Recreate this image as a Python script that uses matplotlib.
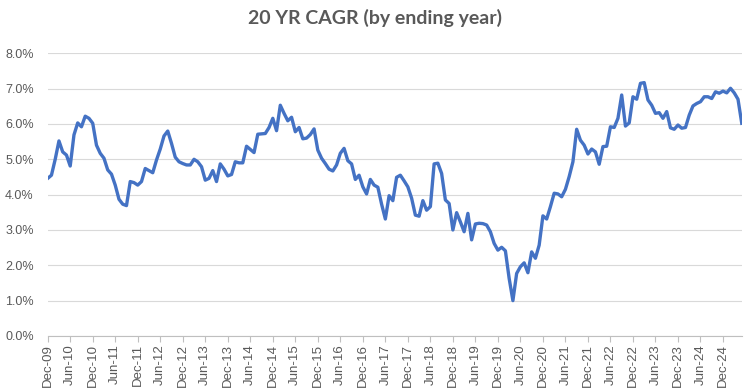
import numpy as np
import matplotlib.pyplot as plt
from matplotlib.ticker import PercentFormatter

# 20-year CAGR by ending month, Dec-09 .. May-25 (percent)
cagr = [
    4.46, 4.55, 5.00, 5.52, 5.21, 5.12, 4.81, 5.69, 6.03, 5.92,
    6.22, 6.16, 6.02, 5.40, 5.17, 5.03, 4.70, 4.58, 4.27, 3.87,
    3.73, 3.69, 4.37, 4.34, 4.27, 4.37, 4.74, 4.68, 4.62, 4.98,
    5.29, 5.66, 5.80, 5.45, 5.06, 4.93, 4.88, 4.84, 4.84, 5.00,
    4.93, 4.79, 4.41, 4.46, 4.68, 4.37, 4.87, 4.72, 4.53, 4.57,
    4.93, 4.90, 4.90, 5.37, 5.28, 5.19, 5.71, 5.72, 5.73, 5.90,
    6.16, 5.81, 6.53, 6.30, 6.09, 6.19, 5.78, 5.90, 5.58, 5.60,
    5.70, 5.86, 5.26, 5.03, 4.88, 4.72, 4.67, 4.84, 5.17, 5.31,
    4.96, 4.87, 4.43, 4.55, 4.22, 4.02, 4.43, 4.27, 4.21, 3.73,
    3.31, 3.97, 3.83, 4.49, 4.55, 4.39, 4.22, 3.90, 3.42, 3.39,
    3.83, 3.56, 3.66, 4.87, 4.89, 4.60, 3.85, 3.75, 3.00, 3.49,
    3.23, 2.95, 3.47, 2.72, 3.17, 3.19, 3.18, 3.14, 2.95, 2.62,
    2.43, 2.51, 2.41, 1.63, 1.00, 1.77, 1.96, 2.07, 1.79, 2.38,
    2.20, 2.57, 3.40, 3.31, 3.66, 4.04, 4.02, 3.94, 4.15, 4.51,
    4.93, 5.85, 5.54, 5.40, 5.15, 5.29, 5.21, 4.86, 5.36, 5.37,
    5.92, 5.90, 6.16, 6.82, 5.94, 6.03, 6.77, 6.70, 7.15, 7.17,
    6.68, 6.53, 6.30, 6.32, 6.16, 6.35, 5.89, 5.85, 5.97, 5.88,
    5.90, 6.25, 6.51, 6.58, 6.63, 6.77, 6.77, 6.72, 6.91, 6.87,
    6.93, 6.88, 7.01, 6.88, 6.70, 6.02,
]

tick_labels = [
    "Dec-09", "Jun-10", "Dec-10", "Jun-11", "Dec-11", "Jun-12", "Dec-12",
    "Jun-13", "Dec-13", "Jun-14", "Dec-14", "Jun-15", "Dec-15", "Jun-16",
    "Dec-16", "Jun-17", "Dec-17", "Jun-18", "Dec-18", "Jun-19", "Dec-19",
    "Jun-20", "Dec-20", "Jun-21", "Dec-21", "Jun-22", "Dec-22", "Jun-23",
    "Dec-23", "Jun-24", "Dec-24",
]

GREY = "#595959"

fig = plt.figure(figsize=(7.5, 3.91), dpi=100)
ax = fig.add_axes([0.0636, 0.1407, 0.9254, 0.723])

x = np.arange(len(cagr))
ax.plot(x, np.array(cagr) / 100, color="#4472C4", linewidth=2.4,
        solid_joinstyle="round", zorder=3)

ax.set_xlim(0, len(cagr) - 1)
ax.set_ylim(0, 0.08)
ax.set_yticks(np.arange(0, 0.081, 0.01))
ax.yaxis.set_major_formatter(PercentFormatter(1.0, decimals=1))
ax.set_xticks(np.arange(0, 6 * len(tick_labels), 6))
ax.set_xticklabels(tick_labels, rotation=90)

ax.grid(axis="y", color="#d9d9d9", linewidth=0.8)
ax.set_axisbelow(True)
for side in ("left", "right", "top"):
    ax.spines[side].set_visible(False)
ax.spines["bottom"].set_color("#bfbfbf")
ax.spines["bottom"].set_linewidth(0.8)

ax.tick_params(axis="y", length=0, pad=10, labelsize=9, labelcolor=GREY)
ax.tick_params(axis="x", length=4, width=0.8, color="#bfbfbf", pad=2,
               labelsize=9.5, labelcolor=GREY)
for lab in ax.get_xticklabels() + ax.get_yticklabels():
    lab.set_fontfamily("Liberation Sans")

fig.text(0.5, 0.954, "20 YR CAGR (by ending year)", ha="center", va="center",
         fontsize=14, fontweight="bold", color=GREY, family="Lato")

fig.savefig("out.png", dpi=100)
